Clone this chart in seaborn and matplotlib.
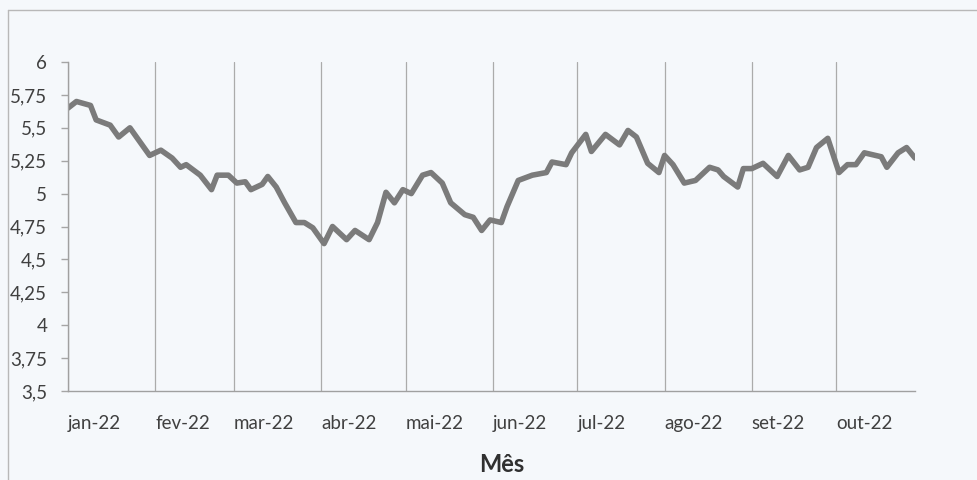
import seaborn as sns
import matplotlib.pyplot as plt
from matplotlib.ticker import FuncFormatter
from matplotlib.lines import Line2D
import pandas as pd

# cotação (data, valor)
datas = [
    "2022-01-01", "2022-01-04", "2022-01-09", "2022-01-11", "2022-01-16", "2022-01-19",
    "2022-01-23", "2022-01-26", "2022-01-30", "2022-02-03", "2022-02-07", "2022-02-10",
    "2022-02-12", "2022-02-17", "2022-02-21", "2022-02-23", "2022-02-27", "2022-03-02",
    "2022-03-05", "2022-03-07", "2022-03-11", "2022-03-13", "2022-03-16", "2022-03-19",
    "2022-03-23", "2022-03-26", "2022-03-29", "2022-04-02", "2022-04-05", "2022-04-10",
    "2022-04-13", "2022-04-18", "2022-04-21", "2022-04-24", "2022-04-27", "2022-04-30",
    "2022-05-03", "2022-05-07", "2022-05-10", "2022-05-14", "2022-05-17", "2022-05-22",
    "2022-05-25", "2022-05-28", "2022-05-31", "2022-06-04", "2022-06-06", "2022-06-10",
    "2022-06-15", "2022-06-20", "2022-06-22", "2022-06-27", "2022-06-29", "2022-07-04",
    "2022-07-06", "2022-07-11", "2022-07-16", "2022-07-19", "2022-07-22", "2022-07-26",
    "2022-07-30", "2022-08-01", "2022-08-04", "2022-08-08", "2022-08-12", "2022-08-17",
    "2022-08-20", "2022-08-22", "2022-08-27", "2022-08-29", "2022-09-01", "2022-09-05",
    "2022-09-10", "2022-09-14", "2022-09-18", "2022-09-21", "2022-09-24", "2022-09-28",
    "2022-10-02", "2022-10-05", "2022-10-08", "2022-10-11", "2022-10-17", "2022-10-19",
    "2022-10-23", "2022-10-26", "2022-10-29",
]
valores = [
    5.65, 5.70, 5.67, 5.56, 5.52, 5.43,
    5.50, 5.41, 5.29, 5.33, 5.27, 5.20,
    5.22, 5.14, 5.03, 5.14, 5.14, 5.08,
    5.09, 5.03, 5.07, 5.13, 5.05, 4.93,
    4.78, 4.78, 4.74, 4.62, 4.75, 4.65,
    4.72, 4.65, 4.78, 5.01, 4.93, 5.03,
    5.00, 5.14, 5.16, 5.08, 4.93, 4.84,
    4.82, 4.72, 4.80, 4.78, 4.90, 5.10,
    5.14, 5.16, 5.24, 5.22, 5.31, 5.45,
    5.32, 5.45, 5.37, 5.48, 5.43, 5.23,
    5.16, 5.29, 5.22, 5.08, 5.10, 5.20,
    5.18, 5.13, 5.05, 5.19, 5.19, 5.23,
    5.13, 5.29, 5.18, 5.20, 5.35, 5.42,
    5.16, 5.22, 5.22, 5.31, 5.28, 5.20,
    5.31, 5.35, 5.27,
]
meses = ["jan-22", "fev-22", "mar-22", "abr-22", "mai-22", "jun-22",
         "jul-22", "ago-22", "set-22", "out-22"]
y_ticks = [3.5, 3.75, 4, 4.25, 4.5, 4.75, 5, 5.25, 5.5, 5.75, 6]

df = pd.DataFrame({"data": pd.to_datetime(datas), "valor": valores})

sns.set_style("white")
plt.rcParams['font.family'] = ['Lato', 'DejaVu Sans']

fundo = "#f5f8fb"
fig = plt.figure(figsize=(9.78, 4.8), dpi=100, facecolor=fundo)
ax = fig.add_axes([68 / 978, 1 - 391 / 480, (915 - 68) / 978, (391 - 62) / 480])
ax.set_facecolor(fundo)

sns.lineplot(data=df, x="data", y="valor", ax=ax, color="#7b7b7b", linewidth=4)

ax.set_xlim(pd.Timestamp("2022-01-01"), pd.Timestamp("2022-10-29"))
ax.set_ylim(3.5, 6)

inicio_mes = pd.date_range("2022-01-01", periods=len(meses), freq="MS")
ax.set_xticks(inicio_mes)
ax.set_xticklabels(meses, ha="left")
ax.xaxis.grid(True, color="#ababab", linewidth=0.9)
ax.yaxis.grid(False)
ax.tick_params(axis="x", length=0, pad=17, labelsize=13.5, labelcolor="#404040")

ax.set_yticks(y_ticks)
ax.yaxis.set_major_formatter(FuncFormatter(lambda v, p: f"{v:g}".replace(".", ",")))
ax.tick_params(axis="y", length=5, width=1, color="#a5a5a5", pad=10,
               labelsize=13.5, labelcolor="#404040", left=True)

for s in ["top", "right"]:
    ax.spines[s].set_visible(False)
for s in ["left", "bottom"]:
    ax.spines[s].set_color("#a0a0a0")
    ax.spines[s].set_linewidth(1)

ax.set_xlabel("")
ax.set_ylabel("")

fig.text(502 / 978, 1 - 465 / 480, "Mês", ha="center", va="center",
         fontsize=17, fontweight="bold", color="#303030")

# moldura da área do gráfico (topo e lado esquerdo visíveis)
fig.add_artist(Line2D([8 / 978, 1], [1 - 10 / 480] * 2, transform=fig.transFigure,
                      color="#b8b8b8", linewidth=1))
fig.add_artist(Line2D([8 / 978] * 2, [0, 1 - 10 / 480], transform=fig.transFigure,
                      color="#b8b8b8", linewidth=1))

fig.savefig("out.png", dpi=100, facecolor=fundo)
